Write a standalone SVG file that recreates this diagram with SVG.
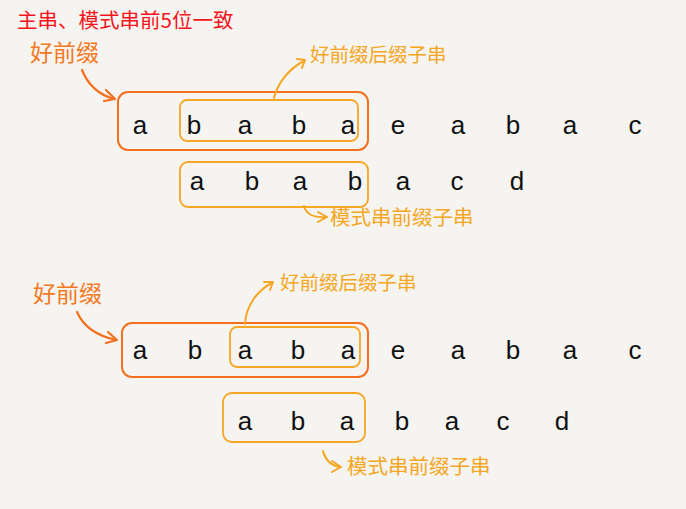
<svg xmlns="http://www.w3.org/2000/svg" width="686" height="509" viewBox="0 0 686 509">
<defs>
<style>
.title{font-family:"Noto Sans CJK SC","Noto Sans",sans-serif;font-size:20.5px;fill:#f5141c}
.ch{font-family:"Liberation Sans","DejaVu Sans",sans-serif;font-size:26px;fill:#111;text-anchor:middle}
.lbl-o{font-family:"Noto Sans CJK SC",sans-serif;font-size:23px;fill:#f6781f}
.lbl-y{font-family:"Noto Sans CJK SC",sans-serif;font-size:19.5px;fill:#f5a623}
.lbl-y2{font-family:"Noto Sans CJK SC",sans-serif;font-size:20.5px;fill:#f5a623}
.box-o{fill:none;stroke:#f4701f;stroke-width:2}
.box-y{fill:none;stroke:#f5a623;stroke-width:1.8}
.arr-o{fill:none;stroke:#f4701f;stroke-width:2.2;stroke-linecap:round;stroke-linejoin:round}
.arr-y{fill:none;stroke:#f5a623;stroke-width:2;stroke-linecap:round;stroke-linejoin:round}
</style>
</defs>
<rect width="686" height="509" fill="#f5f4f0"/>
<text class="title" x="17" y="28">主串、模式串前5位一致</text>

<g id="top-main">
<rect class="box-o" x="118" y="92" width="250" height="58" rx="10"/>
<rect class="box-y" x="180" y="100" width="178" height="41" rx="7"/>
<text class="ch" y="134"><tspan x="140">a</tspan><tspan x="194">b</tspan><tspan x="245">a</tspan><tspan x="299">b</tspan><tspan x="348">a</tspan><tspan x="398">e</tspan><tspan x="458">a</tspan><tspan x="513">b</tspan><tspan x="570">a</tspan><tspan x="635">c</tspan></text>
</g>
<g id="top-pattern">
<rect class="box-y" x="180" y="162" width="188" height="45" rx="8"/>
<text class="ch" y="190"><tspan x="197">a</tspan><tspan x="252">b</tspan><tspan x="300">a</tspan><tspan x="355">b</tspan><tspan x="403">a</tspan><tspan x="457">c</tspan><tspan x="517">d</tspan></text>
</g>
<g id="top-labels">
<text class="lbl-o" x="30" y="61">好前缀</text>
<text class="lbl-y" x="310" y="62">好前缀后缀子串</text>
<text class="lbl-y2" x="330" y="225">模式串前缀子串</text>
</g>

<g id="bottom-main">
<rect class="box-o" x="122" y="323" width="246" height="54" rx="10"/>
<rect class="box-y" x="230" y="327" width="130" height="40" rx="7"/>
<text class="ch" y="359"><tspan x="140">a</tspan><tspan x="195">b</tspan><tspan x="245">a</tspan><tspan x="298">b</tspan><tspan x="348">a</tspan><tspan x="398">e</tspan><tspan x="458">a</tspan><tspan x="513">b</tspan><tspan x="570">a</tspan><tspan x="635">c</tspan></text>
</g>
<g id="bottom-pattern">
<rect class="box-y" x="223" y="393" width="142" height="49" rx="9"/>
<text class="ch" y="430"><tspan x="245">a</tspan><tspan x="298">b</tspan><tspan x="347">a</tspan><tspan x="402">b</tspan><tspan x="452">a</tspan><tspan x="503">c</tspan><tspan x="562">d</tspan></text>
</g>
<g id="bottom-labels">
<text class="lbl-o" x="33" y="302">好前缀</text>
<text class="lbl-y" x="280" y="290">好前缀后缀子串</text>
<text class="lbl-y2" x="347" y="474">模式串前缀子串</text>
</g>

<g id="connectors">
<path class="arr-o" d="M82 70 C88 85 100 95 114 99"/>
<path class="arr-o" d="M106 90 L115 99 L104 101"/>
<path class="arr-y" d="M274 98 C278 82 290 68 304 61"/>
<path class="arr-y" d="M297 59 L305 60 L302 68"/>
<path class="arr-y" d="M304 206 C306 214 314 218 326 217"/>
<path class="arr-y" d="M318 212 L327 217 L318 222"/>
<path class="arr-o" d="M77 312 C84 328 98 336 116 340"/>
<path class="arr-o" d="M108 332 L117 340 L106 343"/>
<path class="arr-y" d="M245 324 C246 305 258 290 272 283"/>
<path class="arr-y" d="M264 282 L273 282 L270 290"/>
<path class="arr-y" d="M323 451 C325 459 330 465 339 467"/>
<path class="arr-y" d="M332 461 L341 467 L332 472"/>
</g>
</svg>
